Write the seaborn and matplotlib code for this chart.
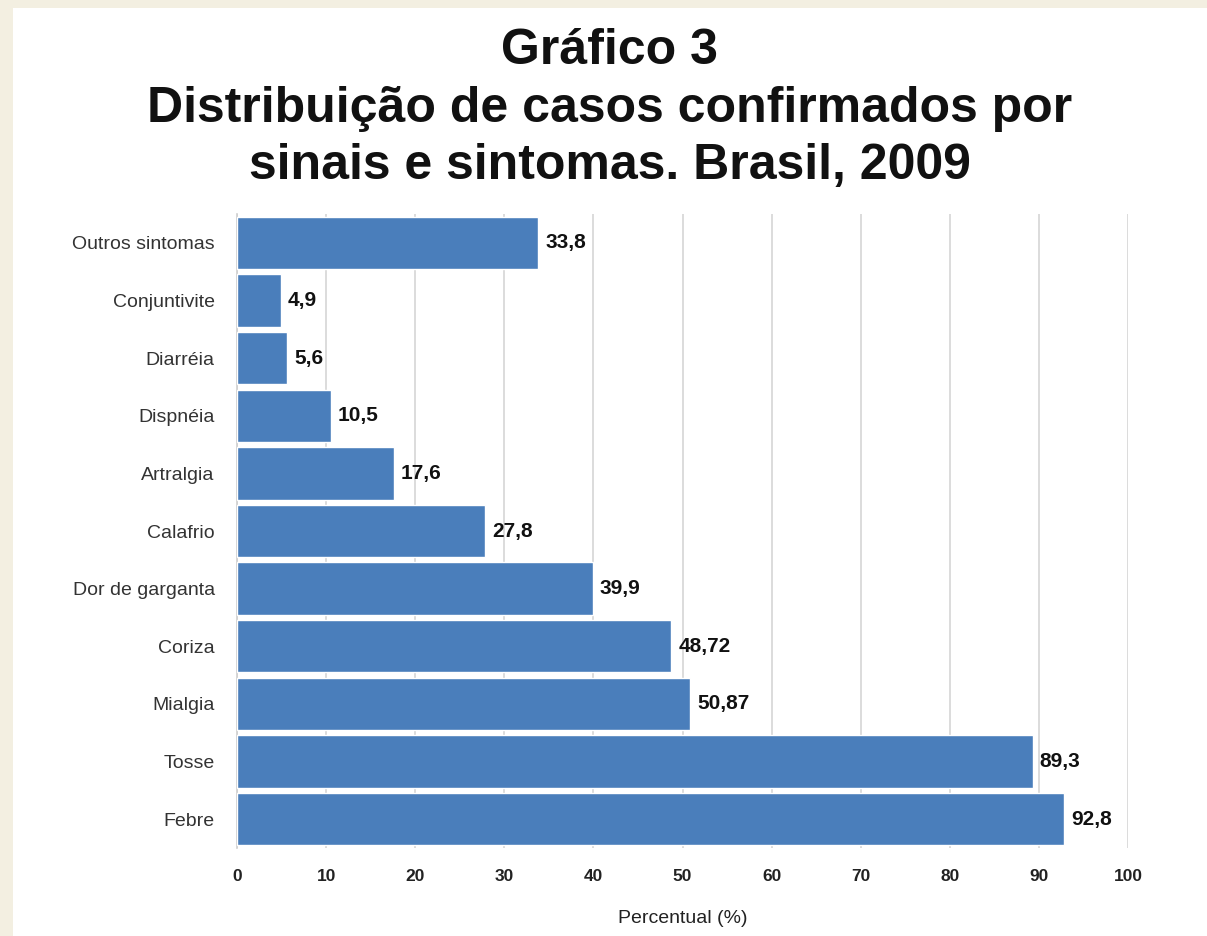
import matplotlib
matplotlib.use("Agg")
import matplotlib.pyplot as plt
import seaborn as sns
import pandas as pd
from matplotlib.patches import Rectangle

categories = ["Outros sintomas", "Conjuntivite", "Diarréia", "Dispnéia", "Artralgia",
              "Calafrio", "Dor de garganta", "Coriza", "Mialgia", "Tosse", "Febre"]
values = [33.8, 4.9, 5.6, 10.5, 17.6, 27.8, 39.9, 48.72, 50.87, 89.3, 92.8]
value_labels = ["33,8", "4,9", "5,6", "10,5", "17,6", "27,8", "39,9", "48,72", "50,87", "89,3", "92,8"]
x_ticks = [0, 10, 20, 30, 40, 50, 60, 70, 80, 90, 100]

title = "Gráfico 3\nDistribuição de casos confirmados por\nsinais e sintomas. Brasil, 2009"
x_label = "Percentual (%)"

sns.set_theme(style="white")
plt.rcParams['font.family'] = ['Liberation Sans', 'DejaVu Sans']

df = pd.DataFrame({"cat": categories, "val": values})

fig = plt.figure(figsize=(12.07, 9.36), dpi=100)
fig.patch.set_facecolor("#f3efe1")
# white panel behind everything
bg = Rectangle((13 / 1207, 0), 1 - 13 / 1207, 1 - 8 / 936,
               transform=fig.transFigure, facecolor="white",
               edgecolor="none", zorder=-10)
fig.add_artist(bg)

ax = fig.add_axes([237 / 1207, 1 - 848 / 936, (1128 - 237) / 1207, (848 - 214) / 936])
ax.set_zorder(1)
ax.set_facecolor("white")

sns.barplot(data=df, x="val", y="cat", order=categories, color="#4a7ebb",
            saturation=1, width=0.91, ax=ax, zorder=3)

ax.set_xlim(0, 100)
ax.set_ylim(len(categories) - 0.5, -0.5)
ax.set_xticks(x_ticks)
ax.set_xticklabels([str(t) for t in x_ticks], fontsize=12.5, fontweight="bold", color="#222222")
ax.tick_params(axis="x", length=0, pad=15)
ax.tick_params(axis="y", length=0, pad=16, labelsize=14, labelcolor="#333333")
ax.set_ylabel("")
ax.set_xlabel(x_label, fontsize=14, color="#222222", labelpad=19)

ax.grid(axis="x", color="#d9d9d9", linewidth=1.3, zorder=0)
ax.grid(axis="y", visible=False)
ax.set_axisbelow(True)
for s in ["top", "bottom", "right"]:
    ax.spines[s].set_visible(False)
ax.spines["left"].set_color("#cfcfcf")
ax.spines["left"].set_linewidth(1.2)

for i, (v, lab) in enumerate(zip(values, value_labels)):
    ax.text(v + 0.8, i, lab, va="center", ha="left", fontsize=15,
            fontweight="bold", color="#111111", zorder=4)

fig.text(0.505, 1 - 28 / 936, title, ha="center", va="top", fontsize=36,
         fontweight="bold", color="#111111", linespacing=1.32)

fig.savefig("out.png", dpi=100, facecolor=fig.get_facecolor())
